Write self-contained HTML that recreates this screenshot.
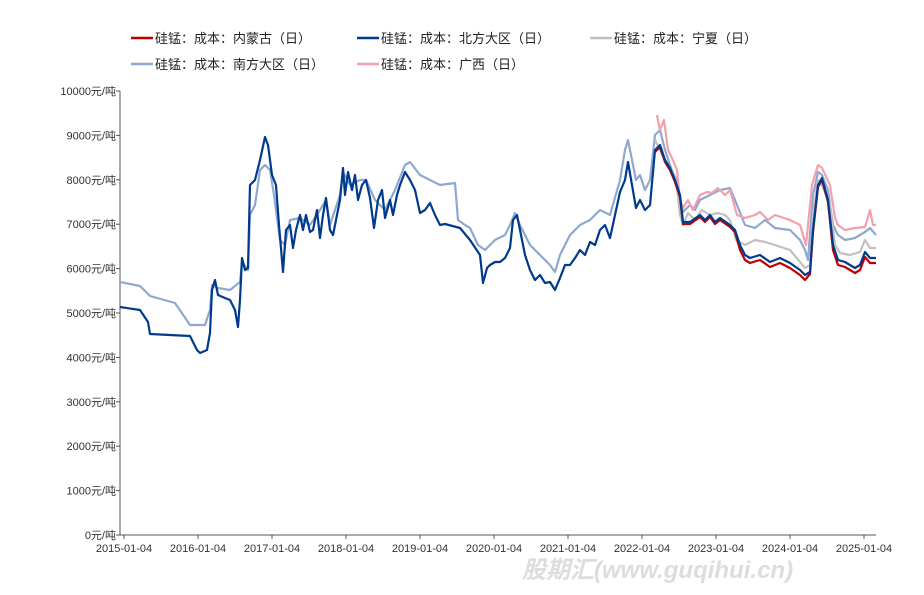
<!DOCTYPE html><html><head><meta charset="utf-8"><style>
body{margin:0;background:#fff;}
text{font-family:"Liberation Sans","Noto Sans CJK SC",sans-serif;}
</style></head><body>
<svg id="s" width="924" height="590" xmlns="http://www.w3.org/2000/svg">
<g font-size="13" fill="#222">
<line x1="131" y1="38" x2="153" y2="38" stroke="#C00000" stroke-width="2.5"/><text x="155" y="43">硅锰：成本：内蒙古（日）</text>
<line x1="357" y1="38" x2="379" y2="38" stroke="#003A8C" stroke-width="2.5"/><text x="381" y="43">硅锰：成本：北方大区（日）</text>
<line x1="590" y1="38" x2="612" y2="38" stroke="#C0C0C0" stroke-width="2.5"/><text x="614" y="43">硅锰：成本：宁夏（日）</text>
<line x1="131" y1="64" x2="153" y2="64" stroke="#8FA8D0" stroke-width="2.5"/><text x="155" y="69">硅锰：成本：南方大区（日）</text>
<line x1="357" y1="64" x2="379" y2="64" stroke="#F4A0AC" stroke-width="2.5"/><text x="381" y="69">硅锰：成本：广西（日）</text>
</g>
<g id="ax" font-size="11" fill="#333"></g>
<line x1="120" y1="91" x2="120" y2="535" stroke="#555"/>
<line x1="120" y1="535" x2="876" y2="535" stroke="#555"/>
<g id="ser" fill="none" stroke-width="2.2" stroke-linejoin="round"></g>
<text x="522" y="578" font-size="24" font-weight="bold" font-style="italic" fill="#ddd">股期汇(www.guqihui.cn)</text>
</svg>
<script>
const ns="http://www.w3.org/2000/svg",ax=document.getElementById('ax'),ser=document.getElementById('ser');
function el(t,a,p,tx){const e=document.createElementNS(ns,t);for(const k in a)e.setAttribute(k,a[k]);if(tx)e.textContent=tx;p.appendChild(e);}
for(let i=0;i<=10;i++){const y=535-i*44.4;el('text',{x:116,y:y+4,'text-anchor':'end'},ax,(i*1000)+'元/吨');el('line',{x1:116,x2:120,y1:y,y2:y,stroke:'#555'},ax);}
for(let i=0;i<=10;i++){const x=124+i*74;el('text',{x:x,y:552,'text-anchor':'middle'},ax,(2015+i)+'-01-04');el('line',{x1:x,x2:x,y1:535,y2:539,stroke:'#555'},ax);}
const N=[[120,307],[140,310],[148,322],[150,334],[190,336],[197,350],[200,353],[207,350],[210,333],[212,290],[215,280],[218,295],[225,298],[230,300],[235,310],[238,327],[240,300],[242,258],[245,270],[248,268],[250,185],[255,180],[260,160],[265,137],[268,145],[272,175],[276,185],[279,225],[283,272],[286,230],[290,225],[293,248],[296,230],[300,215],[303,230],[306,215],[310,232],[313,230],[317,210],[320,238],[323,215],[326,198],[330,230],[333,235],[337,215],[340,200],[343,168],[345,195],[348,172],[352,190],[355,175],[358,200],[362,185],[366,180],[370,198],[374,228],[378,200],[382,190],[385,218],[390,200],[393,215],[397,195],[400,185],[405,172],[410,180],[415,190],[420,213],[425,210],[430,203],[435,215],[440,225],[445,224],[460,228],[470,240],[480,255],[483,283],[487,268],[490,265],[495,262],[500,262],[505,258],[510,248],[513,220],[517,215],[520,230],[525,255],[530,270],[535,280],[540,275],[545,283],[550,282],[555,290],[560,278],[565,265],[570,265],[575,258],[580,250],[585,255],[590,242],[595,245],[600,230],[605,225],[610,238],[615,215],[620,192],[625,180],[628,162],[632,185],[636,208],[640,200],[645,210],[650,205],[655,150],[660,145],[665,160],[670,168],[675,180],[680,195],[683,222],[690,222],[700,215],[705,220],[710,215],[715,222],[720,218],[730,225],[735,230],[740,245],[745,255],[750,258],[760,255],[770,262],[780,258],[790,263],[800,270],[805,275],[810,272],[813,230],[818,185],[822,178],[828,200],[833,245],[838,260],[845,262],[855,268],[860,265],[865,252],[870,258],[876,258]];
const S=[[120,282],[140,286],[150,296],[175,303],[190,325],[205,325],[210,310],[212,285],[218,288],[230,290],[240,282],[242,262],[248,270],[250,215],[255,205],[260,170],[265,165],[270,170],[274,195],[280,240],[285,245],[290,220],[300,218],[310,225],[320,210],[326,200],[330,225],[340,195],[343,172],[350,185],[360,180],[366,180],[375,200],[385,210],[395,190],[405,165],[410,162],[420,175],[430,180],[440,185],[455,183],[458,220],[465,225],[470,228],[478,245],[485,250],[495,240],[505,235],[510,225],[515,213],[520,225],[530,245],[540,255],[550,265],[555,272],[560,255],[570,235],[580,225],[590,220],[600,210],[610,215],[620,180],[625,150],[628,140],[632,160],[636,180],[640,175],[645,190],[650,180],[655,135],[660,130],[665,150],[670,165],[675,178],[680,200],[683,212],[690,205],[695,210],[700,200],[710,195],[720,190],[730,188],[737,205],[745,225],[755,228],[765,220],[775,228],[790,230],[800,240],[805,250],[808,260],[813,195],[818,172],[822,175],[828,190],[833,225],[838,235],[845,240],[855,238],[865,232],[870,228],[876,235]];
const P=[[657,115],[660,130],[664,120],[668,150],[672,158],[677,170],[680,200],[683,208],[688,200],[693,210],[700,195],[707,192],[712,193],[718,188],[725,195],[730,190],[737,215],[745,218],[755,215],[760,212],[768,220],[775,215],[790,220],[800,225],[806,245],[812,185],[818,165],[822,168],[830,185],[835,218],[838,225],[845,230],[855,228],[865,227],[870,210],[873,225],[876,225]];
const G=[[655,140],[660,150],[665,160],[670,168],[676,178],[680,215],[683,225],[688,213],[695,220],[702,210],[710,215],[718,213],[725,215],[730,220],[736,240],[745,245],[755,240],[765,242],[775,245],[790,250],[805,268],[810,265],[813,215],[818,180],[822,185],[830,205],[835,245],[840,253],[850,255],[860,252],[865,240],[870,248],[876,248]];
const R=N.filter(p=>p[0]>=655).map(p=>[p[0],p[1]+(p[0]>735&&p[0]<810||p[0]>830?5:2)]);
function pl(d,c){el('polyline',{points:d.map(p=>p.join(',')).join(' '),stroke:c},ser);}
pl(S,'#8FA8D0');pl(P,'#F4A0AC');pl(G,'#C0C0C0');pl(R,'#C00000');pl(N,'#003A8C');
</script>
</body></html>
